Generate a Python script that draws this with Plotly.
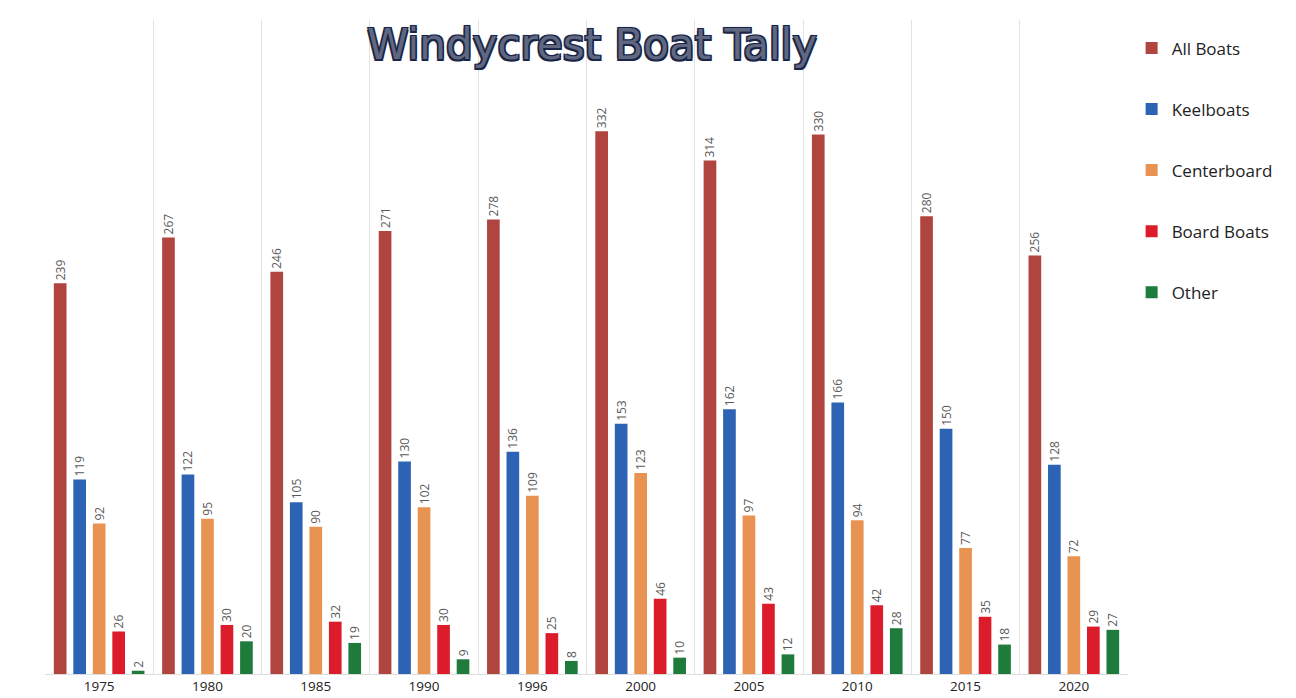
import plotly.graph_objects as go

years = ["1975", "1980", "1985", "1990", "1996", "2000", "2005", "2010", "2015", "2020"]
all_boats = [239, 267, 246, 271, 278, 332, 314, 330, 280, 256]
keelboats = [119, 122, 105, 130, 136, 153, 162, 166, 150, 128]
centerboard = [92, 95, 90, 102, 109, 123, 97, 94, 77, 72]
board_boats = [26, 30, 32, 30, 25, 46, 43, 42, 35, 29]
other = [2, 20, 19, 9, 8, 10, 12, 28, 18, 27]

series = [
    ("All Boats", all_boats, "#B0443F"),
    ("Keelboats", keelboats, "#2D63B5"),
    ("Centerboard", centerboard, "#E99352"),
    ("Board Boats", board_boats, "#DD1C2B"),
    ("Other", other, "#1F7B3B"),
]

fig = go.Figure()
for i, (name, vals, col) in enumerate(series):
    fig.add_trace(go.Bar(
        x=years, y=vals, name=name, marker=dict(color=col, line=dict(width=0)),
        text=[str(v) for v in vals], textposition="outside", textangle=-90,
        constraintext="none",
        textfont=dict(family="Open Sans", size=12, color="#5a5a5a"),
        cliponaxis=False, legendgroup=f"g{i}",
    ))

outline = "#1c2545"
fig.update_layout(
    width=1296, height=698,
    paper_bgcolor="white", plot_bgcolor="white",
    margin=dict(l=37, r=176, t=12, b=32, autoexpand=False),
    barmode="group", bargap=0.1, bargroupgap=0.35,
    showlegend=True,
    legend=dict(
        xref="container", yref="container", x=0.867, y=0.968,
        xanchor="left", yanchor="top",
        font=dict(family="Open Sans", size=17, color="#222222"),
        traceorder="grouped", tracegroupgap=36, itemwidth=30,
        bgcolor="rgba(0,0,0,0)",
    ),
    xaxis=dict(
        type="category", tickson="boundaries", showgrid=True, automargin=False,
        gridcolor="#e2e2e2", gridwidth=1, showline=True, linecolor="#dddddd",
        ticks="", tickfont=dict(family="Open Sans", size=13.5, color="#222222"),
        zeroline=False,
    ),
    yaxis=dict(range=[0, 400], visible=False, showgrid=False, automargin=False),
    annotations=[dict(
        text="Windycrest Boat Tally", xref="paper", yref="paper",
        x=0.505, y=0.962, xanchor="center", yanchor="middle", showarrow=False,
        font=dict(family="DejaVu Sans", size=42, color="#5f6880",
                  shadow=f"-1.5px -1.5px 0 {outline}, 1.5px -1.5px 0 {outline}, "
                         f"-1.5px 1.5px 0 {outline}, 1.5px 1.5px 0 {outline}, "
                         f"0 0 3px #7fa2d0"),
    )],
)

fig.write_html("out.html")
